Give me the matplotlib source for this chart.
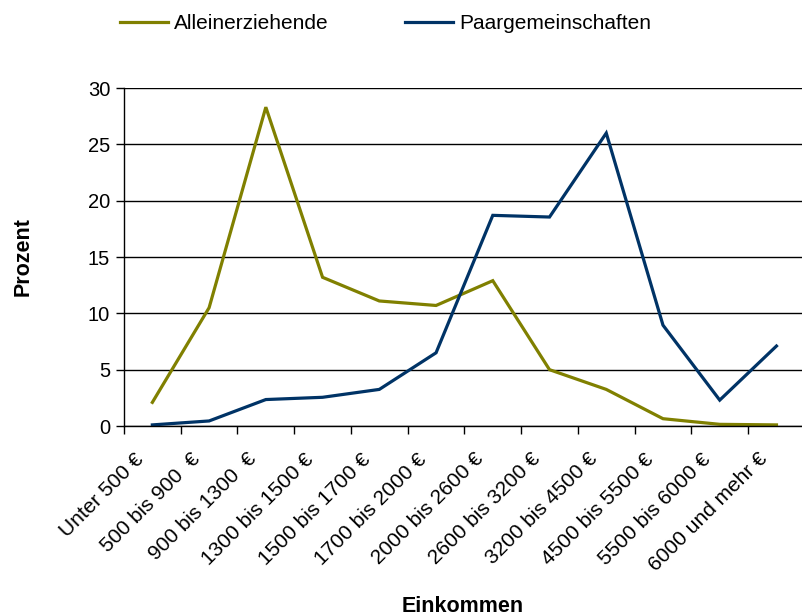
import numpy as np
import matplotlib.pyplot as plt
from matplotlib.transforms import ScaledTranslation

plt.rcParams['font.family'] = ['Liberation Sans', 'DejaVu Sans']

# Income brackets and shares (percent) per household type
categories = ["Unter 500 €", "500 bis 900  €", "900 bis 1300  €", "1300 bis 1500 €",
              "1500 bis 1700 €", "1700 bis 2000 €", "2000 bis 2600 €", "2600 bis 3200 €",
              "3200 bis 4500 €", "4500 bis 5500 €", "5500 bis 6000 €", "6000 und mehr €"]
alleinerziehende = [2.1, 10.5, 28.3, 13.2, 11.1, 10.7, 12.9, 5.0, 3.25, 0.65, 0.15, 0.1]
paargemeinschaften = [0.1, 0.45, 2.35, 2.55, 3.25, 6.5, 18.7, 18.55, 26.0, 8.95, 2.3, 7.1]

x = np.arange(len(categories))

fig = plt.figure(figsize=(8.02, 6.16), dpi=100)
ax = fig.add_axes([0.1546, 0.3084, 0.8454, 0.5487])

ax.plot(x, alleinerziehende, color='#808000', lw=2.3, label='Alleinerziehende',
        solid_joinstyle='miter')
ax.plot(x, paargemeinschaften, color='#003366', lw=2.3, label='Paargemeinschaften',
        solid_joinstyle='miter')

ax.set_ylim(0, 30)
ax.set_yticks(np.arange(0, 31, 5))
ax.set_xlim(-0.5, 11.45)
ax.grid(axis='y', color='black', lw=1)
ax.set_axisbelow(True)

for s in ['top', 'right']:
    ax.spines[s].set_visible(False)
ax.spines['left'].set_linewidth(1)
ax.spines['bottom'].set_linewidth(1)

# labels centred on categories, tick marks on category borders
ax.set_xticks(x)
ax.set_xticklabels(categories, rotation=45, ha='right', rotation_mode='anchor', fontsize=15)
ax.set_xticks(np.arange(-0.5, 11.5, 1), minor=True)
ax.tick_params(axis='x', which='major', length=0, pad=17)
ax.tick_params(axis='x', which='minor', length=6, width=1, direction='out')
ax.tick_params(axis='y', length=6, width=1, labelsize=14.5, pad=4)

shift = ScaledTranslation(-0.19, 0, fig.dpi_scale_trans)
for lab in ax.get_xticklabels():
    lab.set_transform(lab.get_transform() + shift)

ax.set_ylabel('Prozent', fontsize=15.5, fontweight='bold')
ax.yaxis.set_label_coords(-0.134, 0.5)
ax.set_xlabel('Einkommen', fontsize=15.5, fontweight='bold')
ax.xaxis.set_label_coords(0.5, -0.503)

fig.legend(loc='center left', bbox_to_anchor=(0.139, 0.962), borderaxespad=0,
           ncol=2, frameon=False, fontsize=15, handlelength=2.3,
           handletextpad=0.3, columnspacing=3.65)

fig.savefig('out.png', dpi=100)
